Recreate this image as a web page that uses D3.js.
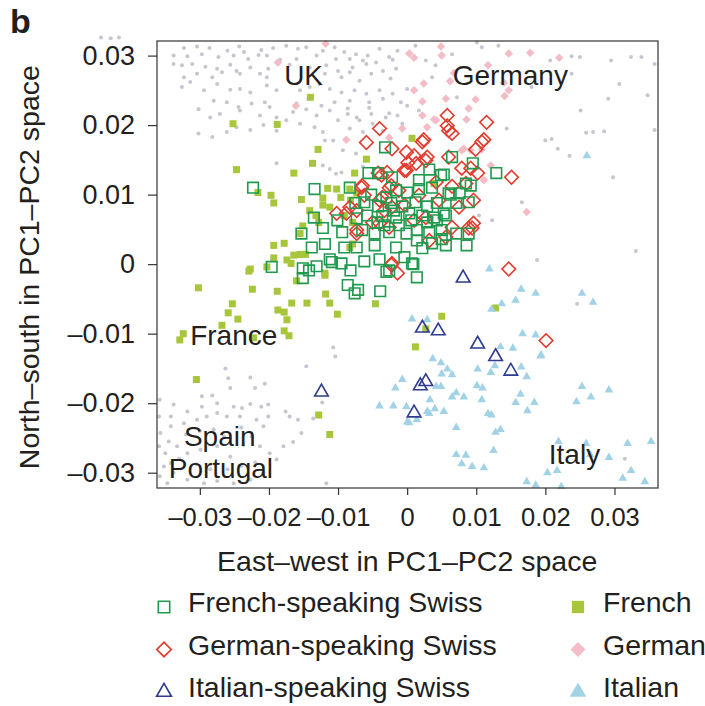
<!DOCTYPE html>
<html>
<head>
<meta charset="utf-8">
<script src="https://cdn.jsdelivr.net/npm/d3@7"></script>
<style>
  body { margin: 0; background: #fff; }
  svg { font-family: "Liberation Sans", Arial, Helvetica, sans-serif; }
</style>
</head>
<body>
<svg width="705" height="706"></svg>
<script>
// PC1-PC2 coordinates, in units of 0.001 ([east-west, north-south])
const others = [
  [-32.3,31.1],[-30.4,31.3],[-28.6,31.1],[-26.0,30.7],[-24.3,31.3],[-23.6,30.5],[-21.1,30.8],[-19.4,31.1],[-17.5,31.4],[-15.8,31.0],
  [-14.6,31.2],[-13.1,30.0],[-12.2,30.7],[-10.5,31.2],[-9.1,30.5],[-7.4,30.2],[-5.7,30.0],[-4.0,31.0],[-2.6,29.8],[-1.4,30.7],
  [-33.8,30.0],[-31.8,29.9],[-29.7,30.2],[-27.3,29.8],[-25.1,30.0],[-23.0,29.5],[-21.5,30.1],[-20.3,30.0],[-18.4,29.4],[-16.0,29.5],
  [-10.3,29.5],[-8.3,29.5],[-6.4,29.3],[-4.5,29.0],[-2.1,29.4],
  [-33.8,28.8],[-32.6,28.6],[-31.1,28.8],[-29.2,28.4],[-27.5,28.1],[-25.6,28.7],[-24.7,27.8],[-22.7,28.3],[-21.3,27.4],[-20.1,28.1],
  [-18.7,28.8],[-17.0,28.7],[-14.1,28.3],[-11.7,28.6],[-10.0,27.8],[-7.9,28.3],[-5.9,28.8],[-3.5,27.8],[-1.6,28.1],[-32.3,26.9],
  [-30.4,27.4],[-28.2,26.9],[-26.8,27.6],[-24.2,27.4],[-20.3,26.9],[-11.9,27.4],[-9.5,26.9],[-8.3,27.6],[-6.9,26.4],[-5.2,27.4],[-2.4,26.7],
  [-32.6,25.5],[-31.4,26.2],[-29.4,25.0],[-27.5,25.9],[-25.6,25.1],[-24.2,25.2],[-22.7,24.7],[-20.3,25.7],[-18.9,25.0],[-15.5,25.0],
  [-14.1,25.5],[-12.7,25.9],[-11.2,25.2],[-9.5,24.7],[-7.6,25.0],[-5.9,24.5],[-4.0,25.0],[-2.1,24.5],[0.0,25.2],[-28.0,23.5],
  [-26.1,23.3],[-24.4,22.6],[-22.5,23.1],[-20.6,23.3],[-19.9,22.6],[-16.0,23.1],[-14.3,23.8],[-12.4,22.8],[-10.5,23.3],[-8.3,23.5],
  [-5.5,23.3],[-3.5,23.8],[-0.9,23.3],
  [-30.2,22.3],[-28.5,21.1],[-27.1,21.6],[-24.2,22.1],[-21.3,21.4],[-18.9,21.1],[-16.5,21.9],[-14.6,22.3],[-13.1,21.4],[-11.2,22.1],
  [-10.0,20.7],[-8.6,21.6],[-6.9,20.7],[-5.2,21.6],[-3.1,21.1],[-1.4,21.4],[-30.2,18.8],[-28.2,18.3],[-26.1,19.0],[-24.7,19.7],
  [-22.7,19.3],[-20.8,20.0],[-18.9,19.2],[-17.5,20.7],[-15.5,20.2],[-13.4,19.7],[-12.2,19.0],[-10.7,17.8],[-8.3,19.5],[-6.4,19.0],
  [-5.0,20.2],[-3.5,19.2],[-18.9,14.5],[-11.2,13.7],[-10.3,13.0],[-7.4,15.9],[-9.3,16.4],[-6.4,14.0],
  [-12.2,14.2],[-9.5,13.2],[-11.9,17.8],[-5.5,22.5],[-2.6,21.7],[-8.6,22.4],[-7.3,21.1],
  [-44.3,32.6],[-42.9,32.5],[-41.7,32.6],
  [2.7,29.3],[4.1,28.6],[6.5,30.2],[10.8,31.2],[13.2,31.4],[20.7,29.3],[23.8,29.9],[25.0,29.8],[29.5,29.3],[30.7,25.9],
  [32.4,29.8],[33.9,29.8],[35.8,28.8],[25.1,22.1],[23.8,27.4],[20.0,17.8],[20.9,18.0],[21.8,16.6],[23.5,15.6],[25.9,18.9],
  [26.9,19.0],[28.5,19.1],[29.1,23.8],[29.8,12.5],[34.8,24.3],[35.8,19.3],[16.6,8.9],[12.3,6.3],[18.8,0.6],[33.1,1.9],
  [0.0,22.8],[1.7,22.1],[-0.7,20.2],[3.6,26.9],[7.2,24.0],[3.2,18.0],[14.4,19.5],[18.0,25.5],[10.1,31.9],[1.2,31.4],
  [10.4,7.0],[24.6,-5.7],[31.5,-28.0],
  [-10.7,-12.0],[-10.4,-13.3],[-14.6,-14.7],[-26.3,-15.0],[-25.9,-16.4],[-22.7,-16.3],[-20.6,-17.2],[-22.0,-17.8],[-25.6,-17.8],[-29.7,-19.0],
  [-28.2,-18.9],[-29.7,-20.5],[-33.8,-20.2],[-34.2,-21.9],[-31.8,-21.2],[-27.5,-20.0],[-25.1,-20.5],[-23.9,-20.7],[-22.7,-20.1],[-21.1,-20.5],
  [-20.1,-20.2],[-17.6,-21.2],[-17.0,-21.9],[-15.8,-22.4],[-13.6,-22.2],[-12.3,-19.9],[-15.3,-24.3],[-16.5,-25.6],[-17.9,-26.2],[-20.8,-23.3],
  [-20.1,-21.9],[-21.8,-22.4],[-24.2,-21.9],[-26.1,-21.9],[-27.5,-21.4],[-29.0,-21.9],[-30.4,-22.4],[-32.3,-22.9],[-34.2,-23.3],[-35.7,-24.3],
  [-35.9,-26.2],[-35.0,-27.2],[-33.3,-26.2],[-31.8,-27.2],[-29.9,-26.7],[-27.5,-26.2],[-25.6,-27.7],[-23.7,-26.0],[-21.3,-26.2],[-19.9,-27.2],
  [-35.2,-29.1],[-33.8,-30.0],[-31.8,-31.0],[-29.4,-31.5],[-27.5,-31.2],[-25.1,-31.5],[-22.7,-31.0],[-20.8,-30.0],[-35.8,-30.5],[-34.7,-31.5],
  [-11.7,-31.5],[-35.8,-19.5],[-35.9,-21.9],[-34.2,-28.6],[-18.9,-28.1],
  [-32.0,-24.5],[-30.0,-24.0],[-28.0,-23.8],[-26.5,-24.8],[-24.0,-23.5],[-22.5,-24.8],[-33.0,-28.0],[-30.5,-28.8],[-28.5,-29.5],[-26.0,-29.5],
  [-24.0,-29.0],[-22.0,-28.5],[-34.5,-25.5]
];

const french = [
  [-14.0,24.0],[-25.2,20.2],[-18.8,20.1],[-12.9,16.5],[-13.7,14.5],[-24.7,13.6],[-16.4,13.1],[-5.9,15.1],[-21.6,10.3],[-19.7,9.9],
  [-19.3,8.8],[-15.3,9.3],[-12.2,9.5],[-11.5,10.9],[-10.2,10.8],[-9.6,9.6],[-12.2,8.5],[-19.3,2.7],[-17.8,3.0],[-19.3,0.9],
  [-17.4,0.6],[-16.4,1.3],[-15.5,1.4],[-14.7,1.4],[-22.7,-0.7],[0.7,18.1],[-7.6,13.1],[-8.3,10.8],[-8.2,9.2],[-7.3,10.2],
  [-11.2,8.2],[-15.1,5.5],[-15.5,4.4],[-7.9,6.0],[-8.3,2.4],[-7.9,2.9],[-16.8,0.1],[-11.9,-1.3],[3.9,11.6],[-30.2,-3.4],
  [-22.9,-1.0],[-22.4,-3.6],[-18.8,-3.9],[-25.3,-5.7],[-25.9,-7.0],[-24.5,-7.9],[-26.8,-8.8],[-18.7,-6.6],[-17.8,-6.9],[-17.4,-8.0],
  [-16.7,-5.6],[-14.5,-5.6],[-17.8,-9.6],[-17.1,-10.3],[-22.2,-10.6],[-32.4,-10.0],[-32.9,-10.9],[-11.8,-4.3],[-11.2,-5.6],[-10.1,-7.2],
  [-4.6,-5.7],[-30.5,-16.6],[-12.8,-21.7],[-11.2,-24.5],[-20.3,-0.4],[-16.0,-2.4],[-11.9,-1.6],[12.8,-6.3],[5.0,-7.5],[1.2,-11.9],
  [2.7,-9.3],[-14.1,7.7],[-13.2,7.0],[-12.8,6.0],[-9.1,7.0]
];

const german = [
  [0.3,30.3],[1.0,29.7],[4.9,31.3],[5.0,30.0],[14.7,30.3],[17.8,30.4],[22.0,29.7],[11.7,28.6],[14.0,26.1],[14.7,25.0],
  [14.1,24.2],[6.2,26.3],[2.4,26.0],[1.0,25.0],[2.2,23.4],[9.9,23.7],[5.6,23.8],[3.9,20.8],[2.9,19.7],[8.6,20.8],
  [8.2,16.6],[10.8,16.5],[12.1,14.2],[11.1,12.1],[17.3,7.5],[-16.1,22.8],[-18.7,29.0],[-11.8,31.7],[-8.8,17.9],[4.2,20.7],
  [7.9,16.4],[9.2,16.4],[-2.6,18.2],[-0.7,19.5],[2.2,21.4],[6.8,27.5],[8.9,22.4]
];

const italian = [
  [11.9,-0.7],[16.5,-3.6],[18.6,-4.2],[15.7,-5.2],[25.3,-4.2],[26.9,-5.5],[12.2,-6.5],[13.7,-5.7],[0.7,-7.9],[2.9,-8.0],
  [16.7,-10.0],[18.6,-10.2],[13.5,-11.9],[15.3,-12.1],[19.3,-13.2],[3.7,-13.6],[4.9,-14.2],[10.2,-15.1],[12.1,-15.6],[12.7,-14.6],
  [16.5,-14.8],[17.3,-16.2],[5.8,-15.1],[6.5,-15.9],[5.0,-15.8],[-0.7,-16.6],[-1.7,-17.8],[4.2,-17.6],[4.9,-17.6],[10.1,-17.5],
  [10.9,-17.8],[25.3,-17.6],[29.2,-18.1],[26.6,-19.1],[24.5,-19.8],[6.5,-19.1],[7.1,-18.5],[8.2,-19.1],[10.8,-19.5],[16.4,-18.7],
  [15.7,-19.9],[18.4,-19.9],[17.4,-21.1],[3.3,-19.5],[-0.1,-20.5],[2.9,-21.2],[4.0,-20.8],[5.3,-21.2],[3.2,-21.5],[0.3,-22.8],
  [1.4,-22.4],[11.7,-21.5],[12.2,-21.7],[7.1,-23.5],[13.5,-23.8],[12.8,-24.2],[12.5,-26.8],[7.1,-27.4],[8.5,-27.5],[7.9,-28.7],
  [9.4,-29.1],[11.1,-29.3],[21.9,-25.5],[25.9,-25.8],[26.5,-27.4],[29.2,-27.8],[31.9,-25.8],[35.3,-25.5],[20.3,-30.0],[21.7,-29.7],
  [32.4,-29.7],[31.2,-30.8],[34.4,-31.3],[17.3,-31.3],[22.3,-32.0],[18.6,-31.8],[26.0,15.6],[19.4,-13.1],[-4.0,-20.4],[-2.0,-20.4],
  [0.0,-22.7]
];

const germanSwiss = [
  [-4.0,19.5],[-5.9,17.5],[-2.2,16.6],[-0.1,16.1],[-0.1,13.5],[-6.6,11.0],[-4.2,13.1],[-2.9,13.2],[-2.6,11.0],[-8.3,8.2],
  [-10.2,7.3],[-3.6,9.6],[-2.2,8.2],[-4.0,5.9],[-7.3,4.9],[-2.2,0.1],[5.8,21.4],[11.5,20.4],[6.0,19.2],[6.5,18.8],
  [2.2,17.6],[10.8,17.6],[9.9,16.5],[1.0,15.6],[2.7,14.9],[7.9,13.8],[10.2,13.1],[9.2,13.8],[0.1,14.6],[1.3,14.5],
  [-3.7,12.8],[-0.4,13.5],[-6.5,11.3],[-2.3,11.3],[-1.2,10.6],[4.2,11.8],[6.5,11.2],[8.5,11.6],[9.6,9.2],[7.5,8.2],
  [-8.8,7.3],[-7.3,7.7],[-4.0,9.2],[-3.3,7.7],[1.0,6.3],[2.7,6.7],[9.6,5.9],[9.4,5.2],[6.5,5.3],[5.6,3.9],
  [3.2,3.4],[-2.6,5.3],[-5.0,6.0],[-7.3,4.4],[-1.4,-1.3],[5.8,19.9],[2.4,17.9],[11.1,17.9],[2.9,15.4],[6.0,15.4],
  [15.1,12.5],[8.9,5.2],[14.7,-0.7],[20.1,-11.0],[-2.3,-0.1],[-6.2,9.9],[4.6,9.2],[1.7,9.9],[-0.4,8.5]
];

const frenchSwiss = [
  [-3.2,16.8],[6.5,15.4],[9.5,14.5],[12.9,13.1],[3.2,13.6],[-5.6,13.1],[-4.2,13.1],[-2.2,12.5],[1.7,12.1],[4.9,12.8],
  [8.5,11.6],[9.2,11.3],[-13.4,10.8],[-8.3,11.0],[-5.2,10.0],[-3.0,9.6],[-1.6,10.6],[0.0,10.3],[1.7,10.8],[3.6,11.0],
  [6.0,10.2],[7.6,10.2],[-6.2,8.9],[-4.2,8.3],[-2.3,8.8],[-0.7,8.3],[1.2,8.9],[2.9,8.3],[4.3,8.8],[7.1,8.8],
  [8.9,8.9],[-7.5,8.8],[-13.5,6.7],[-10.1,6.3],[-7.3,6.6],[-5.8,7.0],[-3.6,6.9],[-1.6,6.7],[0.3,7.3],[2.2,7.0],
  [3.9,6.7],[5.6,7.0],[-12.2,5.2],[-9.4,4.6],[-6.5,4.9],[-4.7,4.4],[-2.6,4.6],[-0.1,4.4],[1.4,4.9],[3.2,4.6],
  [5.0,4.9],[7.1,4.4],[8.9,4.4],[-15.3,4.4],[-13.8,2.4],[-11.9,2.9],[-9.1,2.4],[-7.3,2.4],[-4.7,2.7],[-1.6,2.4],
  [1.4,3.4],[3.6,3.0],[5.6,2.7],[8.6,2.7],[-11.2,0.7],[-6.2,0.4],[-4.0,0.7],[-0.4,1.0],[0.7,0.1],[-9.5,0.1],
  [-15.1,-0.6],[-13.1,-0.3],[-8.2,-0.9],[-2.6,-0.9],[1.4,-1.9],[-15.1,-2.0],[-8.6,-3.0],[-22.3,11.0],[-19.6,-0.4],[-14.2,-0.9],
  [-10.9,0.3],[-7.6,-4.2],[-7.1,-3.7],[-3.9,-3.9],[-3.0,-1.1],[5.3,12.9],[6.3,10.0],[5.3,7.3],[2.2,2.3],[0.9,0.0],
  [5.0,3.6],[4.3,6.3],[-1.2,5.6],[-3.3,5.6],[2.9,6.0],[-1.9,7.7],[0.6,6.3],[-4.3,6.0]
];

const italianSwiss = [
  [8.1,-2.0],[2.2,-9.2],[4.5,-9.6],[10.2,-11.5],[12.8,-13.3],[15.0,-15.4],[1.9,-17.5],[2.7,-16.9],[1.0,-21.4],[-12.4,-18.4]
];

const tickValues = [-0.03, -0.02, -0.01, 0, 0.01, 0.02, 0.03];

const regionNames = ["UK", "Germany", "France", "Spain", "Portugal", "Italy"];
const regionAt = [[-0.0178, 0.0258], [0.0066, 0.0258], [-0.0314, -0.0117], [-0.0323, -0.0261], [-0.0345, -0.0307], [0.0205, -0.0288]];

const svg = d3.select("svg");
const width = +svg.attr("width");
const height = +svg.attr("height");

const ink = "#231f20";

const render = () => {
  const xValue = (d) => d[0] / 1000;
  const yValue = (d) => d[1] / 1000;
  const margin = { top: 41, right: 47, bottom: 218, left: 157 };
  const innerWidth = width - margin.left - margin.right;
  const innerHeight = height - margin.top - margin.bottom;

  const xScale = d3.scaleLinear().domain([-0.0362, 0.0363]).range([0, innerWidth]);
  const yScale = d3.scaleLinear().domain([-0.0322, 0.0321]).range([innerHeight, 0]);

  const tickFormat = (v) => (v === 0 ? "0" : d3.format(".2f")(v).replace("\u2212", "\u2013").replace("-", "\u2013"));

  const g = svg.append("g").attr("transform", `translate(${margin.left},${margin.top})`);

  // axes
  const yAxisG = g.append("g").call(
    d3.axisLeft(yScale).tickValues(tickValues).tickFormat(tickFormat).tickSize(9).tickPadding(13)
  );
  const xAxisG = g.append("g")
    .attr("transform", `translate(0,${innerHeight})`)
    .call(d3.axisBottom(xScale).tickValues(tickValues).tickFormat(tickFormat).tickSize(7).tickPadding(13));
  [xAxisG, yAxisG].forEach((a) => {
    a.select(".domain").remove();
    a.selectAll(".tick line").attr("stroke", "#333").attr("stroke-width", 1.2);
    a.selectAll(".tick text")
      .attr("fill", ink)
      .style("font-family", '"Liberation Sans", Arial, sans-serif');
  });
  yAxisG.selectAll(".tick text").style("font-size", "27px");
  xAxisG.selectAll(".tick text").style("font-size", "25.5px");

  // points
  const place = (d) => `translate(${xScale(xValue(d))},${yScale(yValue(d))})`;
  const drawSymbols = (data, type, size, fill, stroke, rot) =>
    g.append("g")
      .selectAll("path")
      .data(data)
      .join("path")
      .attr("d", d3.symbol(type, size))
      .attr("transform", (d) => place(d) + (rot ? ` rotate(${rot})` : ""))
      .attr("fill", fill)
      .attr("stroke", stroke)
      .attr("stroke-width", 1.6);

  g.append("g")
    .selectAll("circle")
    .data(others)
    .join("circle")
    .attr("cx", (d) => xScale(xValue(d)))
    .attr("cy", (d) => yScale(yValue(d)))
    .attr("r", 2)
    .attr("fill", "#c6c6ce");

  drawSymbols(french, d3.symbolSquare, 49, "#a8c63c", "none");
  drawSymbols(german, d3.symbolSquare, 36, "#f3bcc7", "none", 45);
  drawSymbols(italian, d3.symbolTriangle, 32, "#a2d2e6", "none");
  drawSymbols(germanSwiss, d3.symbolSquare, 92, "none", "#e33b2e", 45);
  drawSymbols(frenchSwiss, d3.symbolSquare, 112, "none", "#1f9a4f");
  drawSymbols(italianSwiss, d3.symbolTriangle, 80, "none", "#2e3b8f");

  // frame
  g.append("rect")
    .attr("width", innerWidth)
    .attr("height", innerHeight)
    .attr("fill", "none")
    .attr("stroke", "#333")
    .attr("stroke-width", 1.2);

  // region names
  g.append("g")
    .selectAll("text")
    .data(regionNames)
    .join("text")
    .attr("x", (d, i) => xScale(regionAt[i][0]))
    .attr("y", (d, i) => yScale(regionAt[i][1]))
    .attr("fill", ink)
    .style("font-size", "28px")
    .text((d) => d);

  // axis titles
  svg.append("text")
    .attr("x", margin.left + xScale(0))
    .attr("y", 571)
    .attr("text-anchor", "middle")
    .attr("fill", ink)
    .style("font-size", "28.5px")
    .text("East\u2013west in PC1\u2013PC2 space");
  svg.append("text")
    .attr("transform", `translate(39,${margin.top + yScale(0) + 3}) rotate(-90)`)
    .attr("text-anchor", "middle")
    .attr("fill", ink)
    .style("font-size", "28.5px")
    .text("North\u2013south in PC1\u2013PC2 space");

  svg.append("text")
    .attr("x", 10)
    .attr("y", 33)
    .attr("fill", ink)
    .style("font-size", "34px")
    .style("font-weight", "bold")
    .text("b");

  // legend
  const legendItems = [
    { label: "French-speaking Swiss", type: d3.symbolSquare, size: 130, fill: "none", stroke: "#1f9a4f", rot: 0 },
    { label: "German-speaking Swiss", type: d3.symbolSquare, size: 105, fill: "none", stroke: "#e33b2e", rot: 45 },
    { label: "Italian-speaking Swiss", type: d3.symbolTriangle, size: 95, fill: "none", stroke: "#2e3b8f", rot: 0 },
    { label: "French", type: d3.symbolSquare, size: 150, fill: "#a8c63c", stroke: "none", rot: 0 },
    { label: "German", type: d3.symbolSquare, size: 110, fill: "#f3bcc7", stroke: "none", rot: 45 },
    { label: "Italian", type: d3.symbolTriangle, size: 120, fill: "#a2d2e6", stroke: "none", rot: 0 },
  ];
  const legend = svg.append("g")
    .selectAll("g")
    .data(legendItems)
    .join("g")
    .attr("transform", (d, i) => `translate(${i < 3 ? 164 : 578},${607 + (i % 3) * 42.5})`);
  legend.append("path")
    .attr("d", (d) => d3.symbol(d.type, d.size)())
    .attr("transform", (d) => `rotate(${d.rot})`)
    .attr("fill", (d) => d.fill)
    .attr("stroke", (d) => d.stroke)
    .attr("stroke-width", 1.6);
  legend.append("text")
    .attr("x", (d, i) => (i < 3 ? 24 : 25))
    .attr("y", 5)
    .attr("fill", ink)
    .style("font-size", "28.5px")
    .text((d) => d.label);
};

render();
</script>
</body>
</html>
